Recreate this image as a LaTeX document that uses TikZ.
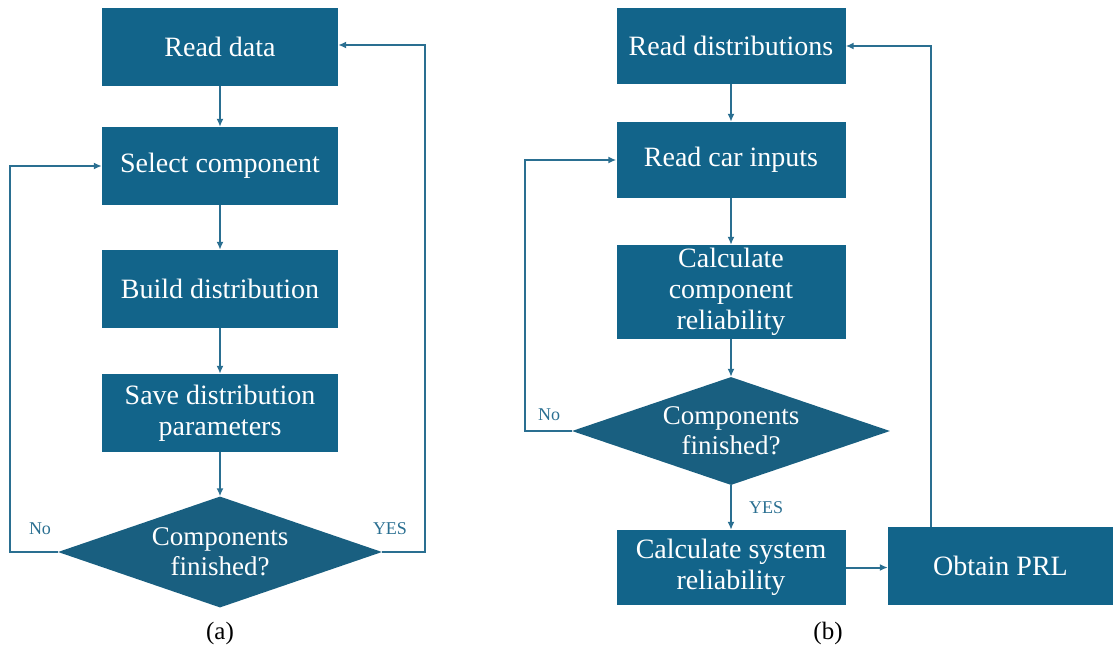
\documentclass[tikz,border=0pt]{standalone}
\usepackage{fontspec}
\setmainfont{Liberation Serif}
\usetikzlibrary{shapes.geometric,arrows.meta,calc}
\definecolor{boxc}{HTML}{12648A}
\definecolor{diac}{HTML}{195F80}
\definecolor{linec}{HTML}{2A6F91}
\begin{document}
\begin{tikzpicture}[x=1pt,y=-1pt,
  stepbox/.style={draw=none,fill=boxc,text=white,inner sep=0pt,align=center,
    font=\fontsize{28}{31}\selectfont},
  decide/.style={diamond,draw=none,fill=diac,text=white,inner sep=0pt,align=center,
    aspect=2.9,font=\fontsize{27}{30}\selectfont},
  arr/.style={draw=linec,line width=2pt,-{Latex[length=8pt,width=7pt]}},
  lbl/.style={text=linec,font=\fontsize{18}{20}\selectfont,inner sep=0pt},
  captxt/.style={text=black,font=\fontsize{25}{28}\selectfont,inner sep=0pt}]
\useasboundingbox (0,0) rectangle (1113,650);
% (a)
\node[stepbox,minimum width=236pt,minimum height=78pt] (rd) at (220,47) {Read data};
\node[stepbox,minimum width=236pt,minimum height=78pt] (sc) at (220,166) {Select component};
\node[stepbox,minimum width=236pt,minimum height=78pt] (bd) at (220,289) {Build distribution};
\node[stepbox,minimum width=236pt,minimum height=78pt] (sp) at (220,413) {Save distribution\\parameters};
\node[decide,minimum width=324pt,minimum height=111pt] (da) at (220,552) {Components\\finished?};
\node[captxt] (capa) at (220,633) {(a)};
\draw[arr] (rd) -- (sc);
\draw[arr] (sc) -- (bd);
\draw[arr] (bd) -- (sp);
\draw[arr] (sp) -- (da);
\coordinate (nol) at (10,552);
\coordinate (yesr) at (425,552);
\draw[arr] (da.west) -- (nol) |- (sc.west);
\draw[arr] (da.east) -- (yesr) |- ([yshift=2pt]rd.east);
\node[lbl] (noa) at (40,529) {No};
\node[lbl] (yesa) at (390,529) {YES};
% (b)
\node[stepbox,minimum width=229pt,minimum height=76pt] (rdist) at (731,46) {Read distributions};
\node[stepbox,minimum width=229pt,minimum height=76pt] (rci) at (731,160) {Read car inputs};
\node[stepbox,minimum width=229pt,minimum height=94pt] (ccr) at (731,292) {Calculate\\component\\reliability};
\node[decide,minimum width=318pt,minimum height=108pt] (db) at (731,431) {Components\\finished?};
\node[stepbox,minimum width=229pt,minimum height=75pt] (csr) at (731,567.5) {Calculate system\\reliability};
\node[stepbox,minimum width=225pt,minimum height=78pt] (prl) at (1000.5,566) {Obtain PRL};
\node[captxt] (capb) at (828,633) {(b)};
\draw[arr] (rdist) -- (rci);
\draw[arr] (rci) -- (ccr);
\draw[arr] (ccr) -- (db);
\draw[arr] (db) -- (csr);
\coordinate (nob) at (525,431);
\draw[arr] (db.west) -- (nob) |- (rci.west);
\draw[arr] (csr.east) -- (csr.east -| prl.west);
\draw[arr] ([xshift=43pt]prl.north west) |- (rdist.east);
\node[lbl] (nobl) at (549,415) {No};
\node[lbl] (yesb) at (766,508) {YES};
\end{tikzpicture}
\end{document}
